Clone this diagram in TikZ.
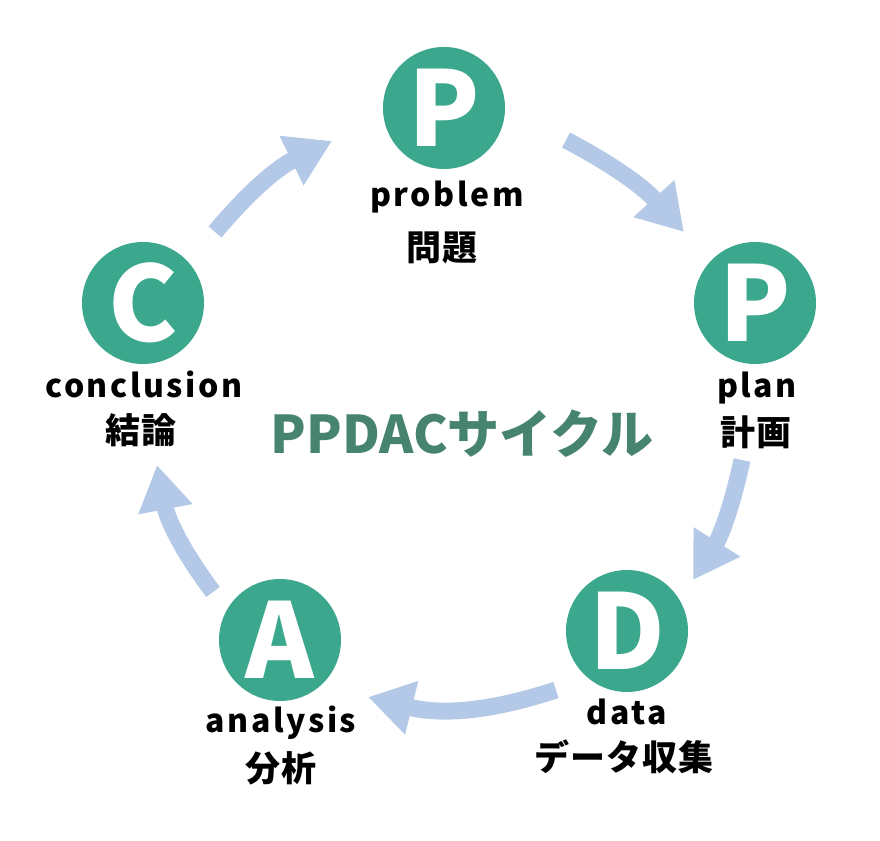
\documentclass[tikz,border=0pt]{standalone}
\usepackage{fontspec}
\setmainfont{Noto Sans CJK JP}
\newfontfamily\enfont[LetterSpace=8]{Noto Sans CJK JP}
\newfontfamily\jafont[LetterSpace=3]{Noto Sans CJK JP}
\usetikzlibrary{arrows.meta}
\definecolor{discgreen}{HTML}{3BA88E}
\definecolor{arrowblue}{HTML}{B4C9E7}
\definecolor{titlegreen}{HTML}{47846F}
\tikzset{
	disc/.style={circle, fill=discgreen, minimum size=122pt, inner sep=0pt, text=white, font=\fontsize{104}{104}\selectfont\bfseries},
	en/.style={anchor=base, font=\enfont\fontsize{32}{32}\selectfont\bfseries},
	ja/.style={font=\jafont\fontsize{35}{35}\selectfont\bfseries},
	cyc/.style={line width=17pt, draw=arrowblue, -{Triangle[length=45pt,width=52pt]}},
}

\begin{document}
\begin{tikzpicture}[x=1pt,y=1pt]
	\useasboundingbox (0,0) rectangle (880,840);

	\node[disc] (p1) at (444,732) {P};
	\node[disc] (p2) at (755,537) {P};
	\node[disc] (d) at (627,209) {D};
	\node[disc] (a) at (280,200) {A};
	\node[disc] (c) at (143,537) {C};

	\node[en] (p1en) at (447,633) {problem};
	\node[ja] (p1ja) at (442,592) {問題};
	\node[en] (p2en) at (757,442) {plan};
	\node[ja] (p2ja) at (756,408) {計画};
	\node[en] (den) at (627,115) {data};
	\node[ja] (dja) at (624,83) {データ収集};
	\node[en] (aen) at (281,107) {analysis};
	\node[ja] (aja) at (281,72) {分析};
	\node[en] (cen) at (144,442) {conclusion};
	\node[ja] (cja) at (141,410) {結論};

	\node[text=titlegreen, font=\fontsize{52}{52}\selectfont\bfseries] (title) at (462,406) {PPDACサイクル};

	\coordinate (a1s) at (566,700);
	\coordinate (a1e) at (684,608);
	\coordinate (a2s) at (742,380);
	\coordinate (a2e) at (693,260);
	\coordinate (a3s) at (556,150);
	\coordinate (a3e) at (368,143);
	\coordinate (a4s) at (213,248);
	\coordinate (a4e) at (157,375);
	\coordinate (a5s) at (215,608);
	\coordinate (a5e) at (332,699);

	\draw[cyc] (a1s) to[bend left=10] (a1e);
	\draw[cyc] (a2s) to[bend left=10] (a2e);
	\draw[cyc] (a3s) to[bend left=16] (a3e);
	\draw[cyc] (a4s) to[bend left=13] (a4e);
	\draw[cyc] (a5s) to[bend left=12] (a5e);
\end{tikzpicture}
\end{document}
